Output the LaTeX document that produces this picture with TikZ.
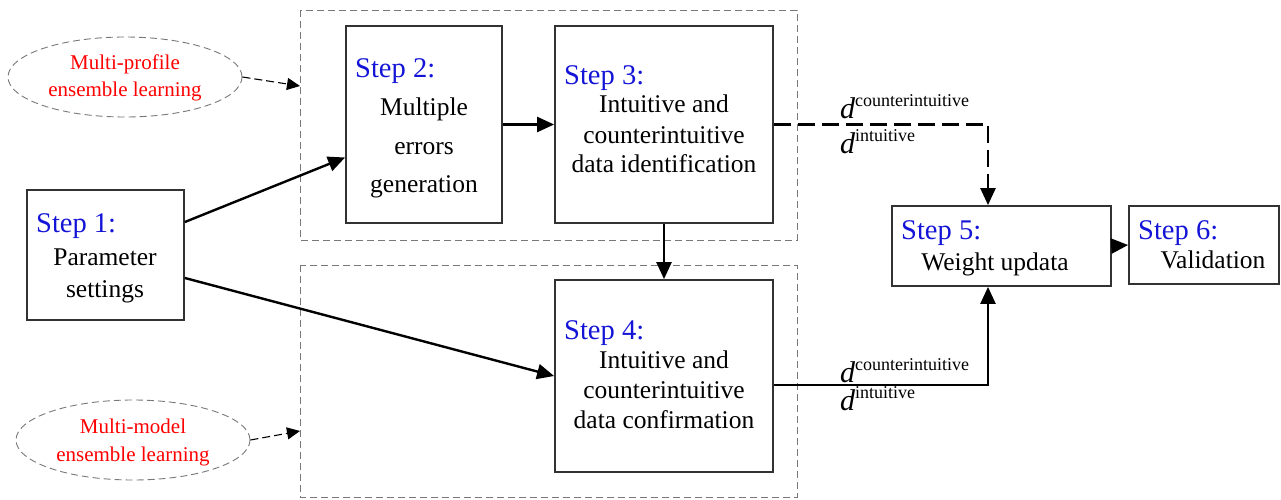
\documentclass[tikz,border=0pt]{standalone}
\usepackage{fontspec}
\setmainfont{Liberation Serif}
\usetikzlibrary{arrows.meta,shapes.geometric}
\definecolor{stepblue}{RGB}{20,20,215}
\definecolor{groupgray}{RGB}{120,120,120}
\definecolor{boxline}{RGB}{50,50,50}

\begin{document}
\begin{tikzpicture}[x=1pt,y=-1pt,
  box/.style={draw=boxline,line width=1.8pt,inner sep=0pt},
  grp/.style={draw=groupgray,line width=0.9pt,dash pattern=on 7pt off 4pt},
  oval/.style={ellipse,draw=groupgray,line width=0.9pt,dash pattern=on 7pt off 4pt,
    inner sep=0pt,minimum width=234pt,minimum height=80pt},
  steplbl/.style={anchor=base west,inner sep=0pt,text=stepblue,font=\fontsize{28.5}{30}\selectfont},
  bodyln/.style={anchor=base,inner sep=0pt,font=\fontsize{25.5}{30}\selectfont},
  ovaltxt/.style={anchor=base,inner sep=0pt,text=red,font=\fontsize{21}{25}\selectfont},
  flow/.style={line width=2.4pt,-{Triangle[length=17pt,width=15pt]}},
  dflow/.style={line width=2.6pt,dash pattern=on 17pt off 7pt,-{Triangle[length=17pt,width=15pt]}},
  hint/.style={line width=1.1pt,dash pattern=on 8pt off 4pt,-{Triangle[length=13pt,width=12pt]}},
  dlabel/.style={anchor=base west,inner sep=0pt}
]
\useasboundingbox (0,0) rectangle (1281,500);

% dashed group frames
\draw[grp] (300,10) rectangle (797,240);
\draw[grp] (300,265) rectangle (797,497);

% process boxes
\node[box,minimum width=157pt,minimum height=130pt] (s1) at (105.5,255) {};
\node[box,minimum width=156pt,minimum height=197pt] (s2) at (424,124.5) {};
\node[box,minimum width=218pt,minimum height=197pt] (s3) at (664,124.5) {};
\node[box,minimum width=218pt,minimum height=192pt] (s4) at (664,376) {};
\node[box,minimum width=219pt,minimum height=80pt] (s5) at (1001.5,246) {};
\node[box,minimum width=150pt,minimum height=78pt] (s6) at (1204,245) {};

% box texts
\node[steplbl] (s1l) at (36,232) {Step 1:};
\node[bodyln] (s1a) at (105,265) {Parameter};
\node[bodyln] (s1b) at (105,297) {settings};

\node[steplbl] (s2l) at (355,78) {Step 2:};
\node[bodyln] (s2a) at (424,115) {Multiple};
\node[bodyln] (s2b) at (424,154) {errors};
\node[bodyln] (s2c) at (424,192) {generation};

\node[steplbl] (s3l) at (564,85) {Step 3:};
\node[bodyln] (s3a) at (664,113) {Intuitive and};
\node[bodyln] (s3b) at (664,143) {counterintuitive};
\node[bodyln] (s3c) at (664,172) {data identification};

\node[steplbl] (s4l) at (564,339) {Step 4:};
\node[bodyln] (s4a) at (664,368) {Intuitive and};
\node[bodyln] (s4b) at (664,398) {counterintuitive};
\node[bodyln] (s4c) at (664,428) {data confirmation};

\node[steplbl] (s5l) at (901,239) {Step 5:};
\node[bodyln] (s5a) at (995,270) {Weight updata};

\node[steplbl] (s6l) at (1138,239) {Step 6:};
\node[bodyln] (s6a) at (1213,268) {Validation};

% ensemble-learning ovals
\node[oval] (e1) at (125,77) {};
\node[ovaltxt] (e1a) at (125,70) {Multi-profile};
\node[ovaltxt] (e1b) at (125,97) {ensemble learning};
\node[oval] (e2) at (133,440) {};
\node[ovaltxt] (e2a) at (133,433) {Multi-model};
\node[ovaltxt] (e2b) at (133,461) {ensemble learning};

\coordinate (g1in) at (300,86);
\coordinate (g2in) at (300,431);
\draw[hint] (e1.east) -- (g1in);
\draw[hint] (e2.east) -- (g2in);

% main flow
\draw[flow] ([yshift=33pt]s1.east) -- ([yshift=-33pt]s2.west);
\draw[flow] ([yshift=-23pt]s1.east) -- (s4.west);
\draw[flow] (s2.east) -- (s3.west);
\draw[flow] (s3.south) -- (s4.north);
\draw[dflow] (s3.east) -| ([xshift=-13.5pt]s5.north);
\draw[flow] ([yshift=-9pt]s4.east) -| ([xshift=-13.5pt]s5.south);
\draw[flow] (s5.east) -- (s6.west);

% data-set labels on the two links into step 5
\node[dlabel] (dc1) at (840,118) {\fontsize{30}{30}\selectfont\itshape d\raisebox{12pt}{\fontsize{18}{20}\selectfont\upshape counterintuitive}};
\node[dlabel] (di1) at (840,153) {\fontsize{30}{30}\selectfont\itshape d\raisebox{12pt}{\fontsize{18}{20}\selectfont\upshape intuitive}};
\node[dlabel] (dc2) at (840,382) {\fontsize{30}{30}\selectfont\itshape d\raisebox{12pt}{\fontsize{18}{20}\selectfont\upshape counterintuitive}};
\node[dlabel] (di2) at (840,410) {\fontsize{30}{30}\selectfont\itshape d\raisebox{12pt}{\fontsize{18}{20}\selectfont\upshape intuitive}};
\end{tikzpicture}
\end{document}
